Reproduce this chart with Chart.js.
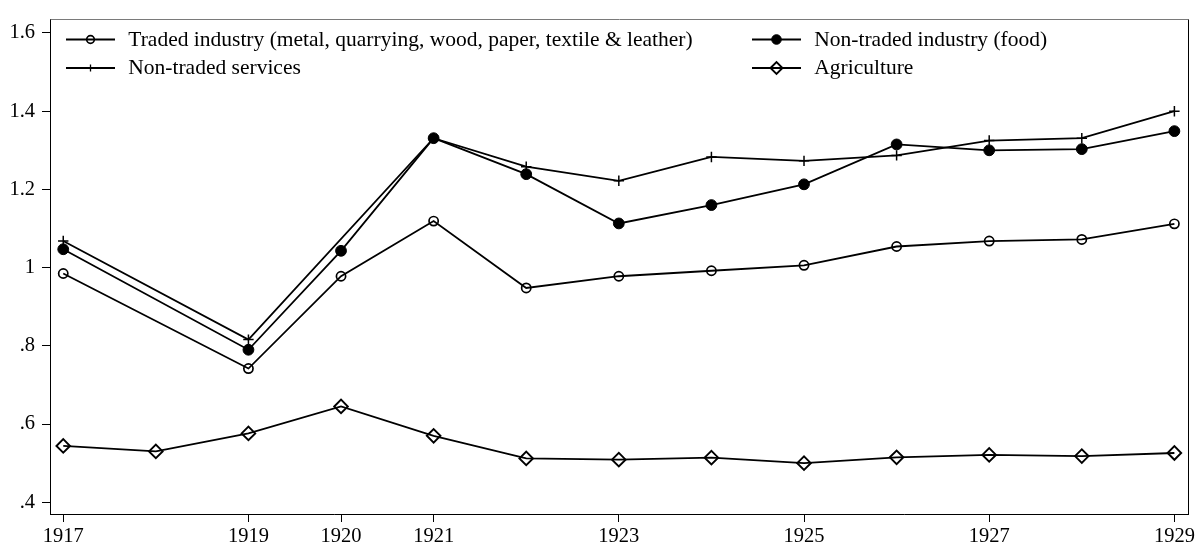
<!DOCTYPE html>
<html>
<head>
<meta charset="utf-8">
<script src="https://cdn.jsdelivr.net/npm/chart.js@4.4.1/dist/chart.umd.min.js"></script>
<style>
  html, body { margin: 0; padding: 0; background: #fff; }
  #wrap { width: 1197px; height: 544px; }
</style>
</head>
<body>
<div id="wrap"><canvas id="c" width="1197" height="544"></canvas></div>
<script>
// ---- data ----
const years = [1917, 1918, 1919, 1920, 1921, 1922, 1923, 1924, 1925, 1926, 1927, 1928, 1929];
const tradedIndustry    = [0.985, null, 0.742, 0.978, 1.119, 0.948, 0.978, 0.992, 1.006, 1.054, 1.068, 1.072, 1.112];
const nonTradedIndustry = [1.047, null, 0.790, 1.043, 1.331, 1.239, 1.113, 1.160, 1.213, 1.315, 1.300, 1.303, 1.349];
const nonTradedServices = [1.068, null, 0.816, null, 1.331, 1.258, 1.222, 1.283, 1.273, 1.287, 1.325, 1.331, 1.400];
const agriculture       = [0.544, 0.530, 0.576, 0.645, 0.570, 0.512, 0.509, 0.514, 0.500, 0.515, 0.521, 0.518, 0.526];
const seriesNames = [
  "Traded industry (metal, quarrying, wood, paper, textile & leather)",
  "Non-traded industry (food)",
  "Non-traded services",
  "Agriculture"
];
const xTickYears = [1917, 1919, 1920, 1921, 1923, 1925, 1927, 1929];
const yTickValues = [1.6, 1.4, 1.2, 1.0, 0.8, 0.6, 0.4];
const yTickLabels = ["1.6", "1.4", "1.2", "1", ".8", ".6", ".4"];

const FONT = "'Liberation Serif', 'Times New Roman', serif";
const toXY = arr => years.map((y, i) => ({ x: y, y: arr[i] }));

function ds(label, arr, style, radius, fill, bw) {
  return {
    label, data: toXY(arr),
    borderColor: '#000', borderWidth: 1.8,
    pointStyle: style, pointRadius: radius, pointHoverRadius: radius,
    pointBackgroundColor: fill, pointBorderColor: '#000', pointBorderWidth: bw,
    spanGaps: true, tension: 0, fill: false
  };
}

const datasets = [
  ds(seriesNames[0], tradedIndustry, 'circle', 4.6, 'rgba(0,0,0,0)', 1.7),
  ds(seriesNames[1], nonTradedIndustry, 'circle', 5.4, '#000', 1),
  ds(seriesNames[2], nonTradedServices, 'cross', 5.2, 'rgba(0,0,0,0)', 1.5),
  ds(seriesNames[3], agriculture, 'rectRot', 6.8, 'rgba(0,0,0,0)', 1.9)
];

// legend positions (layout)
const legendSlots = [
  { x: 66, y: 39.5 },   // traded
  { x: 752, y: 39.5 },  // food
  { x: 66, y: 68 },     // services
  { x: 752, y: 68 }     // agriculture
];
const legendMarkerRadius = [3.8, 4.8, 3.6, 6];

const frameLegendPlugin = {
  id: 'frameLegend',
  afterDraw(chart) {
    const ctx = chart.ctx, a = chart.chartArea;
    ctx.save();
    ctx.lineWidth = 1;
    ctx.strokeStyle = '#7a7a7a';
    ctx.beginPath();
    ctx.moveTo(Math.round(a.left) + 0.5, Math.round(a.top) + 0.5);
    ctx.lineTo(Math.round(a.right) + 0.5, Math.round(a.top) + 0.5);
    ctx.stroke();
    ctx.strokeStyle = '#000';
    ctx.beginPath();
    ctx.moveTo(Math.round(a.right) + 0.5, Math.round(a.top) + 0.5);
    ctx.lineTo(Math.round(a.right) + 0.5, Math.round(a.bottom) + 0.5);
    ctx.stroke();

    // legend
    chart.data.datasets.forEach((d, i) => {
      const s = legendSlots[i];
      ctx.strokeStyle = '#000';
      ctx.lineWidth = 1.8;
      ctx.beginPath();
      ctx.moveTo(s.x, s.y);
      ctx.lineTo(s.x + 49, s.y);
      ctx.stroke();
      ctx.fillStyle = d.pointBackgroundColor;
      ctx.strokeStyle = '#000';
      ctx.lineWidth = d.pointStyle === 'cross' ? 1.3 : d.pointBorderWidth;
      Chart.helpers.drawPoint(ctx, {
        pointStyle: d.pointStyle, radius: legendMarkerRadius[i], rotation: 0, borderWidth: ctx.lineWidth
      }, s.x + 24.5, s.y);
      ctx.fillStyle = '#000';
      ctx.font = '21.5px ' + FONT;
      ctx.textAlign = 'left';
      ctx.textBaseline = 'alphabetic';
      ctx.fillText(d.label, s.x + 62.3, s.y + 6.3);
    });
    ctx.restore();
  }
};

new Chart(document.getElementById('c'), {
  type: 'line',
  data: { datasets },
  plugins: [frameLegendPlugin],
  options: {
    responsive: false,
    animation: false,
    devicePixelRatio: 1,
    layout: { padding: { top: 13, right: 7, left: 0, bottom: 0 } },
    plugins: { legend: { display: false }, tooltip: { enabled: false } },
    scales: {
      x: {
        type: 'linear',
        min: 1916.857, max: 1929.148,
        afterBuildTicks: ax => { ax.ticks = xTickYears.map(v => ({ value: v })); },
        afterFit: ax => { ax.height = 30; },
        ticks: {
          autoSkip: false, maxRotation: 0, padding: 2,
          color: '#000', font: { family: FONT, size: 20.5 },
          callback: v => String(v)
        },
        grid: { drawOnChartArea: false, drawTicks: true, tickLength: 8, tickColor: '#000', tickWidth: 1 },
        border: { display: true, color: '#000', width: 1 }
      },
      y: {
        type: 'linear',
        min: 0.370, max: 1.635,
        afterBuildTicks: ax => { ax.ticks = yTickValues.map(v => ({ value: v })); },
        afterFit: ax => { ax.width = 50; },
        ticks: {
          autoSkip: false, padding: 7,
          color: '#000', font: { family: FONT, size: 20.5 },
          callback: v => { const k = yTickValues.findIndex(t => Math.abs(t - v) < 1e-6); return k >= 0 ? yTickLabels[k] : ''; }
        },
        grid: { drawOnChartArea: false, drawTicks: true, tickLength: 8, tickColor: '#000', tickWidth: 1 },
        border: { display: true, color: '#000', width: 1 }
      }
    }
  }
});
</script>
</body>
</html>
